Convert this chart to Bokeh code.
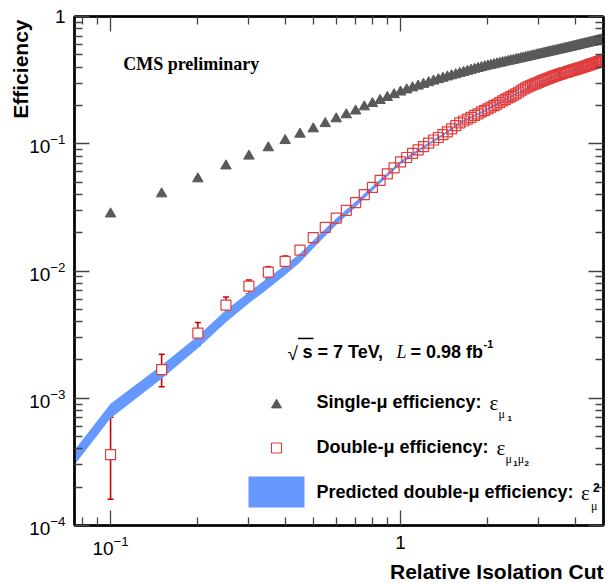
import math
from bokeh.plotting import figure
from bokeh.models import (ColumnDataSource, FixedTicker, LogTickFormatter, LogAxis, Label,
                          Legend, LegendItem, Whisker, TeeHead, BoxAnnotation, Range1d, Title)
from bokeh.embed import file_html
from bokeh.resources import INLINE

# ---------------- data ----------------
iso_cut = [0.10, 0.15, 0.20, 0.25, 0.30, 0.35, 0.40, 0.45, 0.50, 0.55,
           0.60, 0.65, 0.70, 0.75, 0.80, 0.85, 0.90, 0.95, 1.00, 1.05,
           1.10, 1.15, 1.20, 1.25, 1.30, 1.35, 1.40, 1.45, 1.50, 1.55,
           1.60, 1.65, 1.70, 1.75, 1.80, 1.85, 1.90, 1.95, 2.00, 2.05,
           2.10, 2.15, 2.20, 2.25, 2.30, 2.35, 2.40, 2.45, 2.50, 2.55,
           2.60, 2.65, 2.70, 2.75, 2.80, 2.85, 2.90, 2.95, 3.00, 3.05,
           3.10, 3.15, 3.20, 3.25, 3.30, 3.35, 3.40, 3.45, 3.50, 3.55,
           3.60, 3.65, 3.70, 3.75, 3.80, 3.85, 3.90, 3.95, 4.00, 4.05,
           4.10, 4.15, 4.20, 4.25, 4.30, 4.35, 4.40, 4.45, 4.50, 4.55,
           4.60, 4.65, 4.70, 4.75, 4.80, 4.85, 4.90, 4.95, 5.00]

single_eff = [0.0281, 0.0404, 0.0530, 0.0670, 0.0800, 0.0930, 0.1060, 0.1190, 0.1310, 0.1440,
              0.1570, 0.1690, 0.1810, 0.1950, 0.2070, 0.2190, 0.2310, 0.2430, 0.2550, 0.2650,
              0.2750, 0.2840, 0.2930, 0.3020, 0.3110, 0.3190, 0.3270, 0.3350, 0.3420, 0.3490,
              0.3570, 0.3640, 0.3710, 0.3780, 0.3850, 0.3910, 0.3970, 0.4030, 0.4090, 0.4140,
              0.4190, 0.4240, 0.4290, 0.4340, 0.4390, 0.4440, 0.4490, 0.4530, 0.4580, 0.4630,
              0.4670, 0.4720, 0.4760, 0.4810, 0.4850, 0.4900, 0.4940, 0.4990, 0.5030, 0.5070,
              0.5120, 0.5160, 0.5200, 0.5250, 0.5290, 0.5330, 0.5370, 0.5410, 0.5450, 0.5490,
              0.5530, 0.5570, 0.5610, 0.5650, 0.5690, 0.5730, 0.5770, 0.5810, 0.5850, 0.5890,
              0.5930, 0.5970, 0.6010, 0.6050, 0.6090, 0.6120, 0.6160, 0.6200, 0.6240, 0.6270,
              0.6310, 0.6350, 0.6380, 0.6420, 0.6450, 0.6490, 0.6520, 0.6560, 0.6600]

double_eff = [3.6e-4, 1.68e-3, 3.25e-3, 5.4e-3, 7.6e-3, 9.8e-3, 1.19e-2, 1.46e-2, 1.83e-2, 2.2e-2,
              2.6e-2, 3.0e-2, 3.45e-2, 3.98e-2, 4.54e-2, 5.15e-2, 5.79e-2, 6.47e-2, 7.2e-2, 7.8e-2,
              8.4e-2, 8.95e-2, 9.5e-2, 0.101, 0.107, 0.112, 0.118, 0.124, 0.131, 0.139,
              0.146, 0.151, 0.156, 0.161, 0.167, 0.172, 0.178, 0.183, 0.188, 0.194,
              0.199, 0.205, 0.211, 0.217, 0.223, 0.229, 0.235, 0.241, 0.247, 0.254,
              0.261, 0.268, 0.275, 0.280, 0.285, 0.290, 0.295, 0.300, 0.305, 0.310,
              0.315, 0.319, 0.324, 0.328, 0.332, 0.337, 0.341, 0.345, 0.349, 0.353,
              0.356, 0.360, 0.363, 0.366, 0.370, 0.373, 0.377, 0.380, 0.384, 0.387,
              0.390, 0.394, 0.397, 0.401, 0.404, 0.408, 0.411, 0.415, 0.419, 0.422,
              0.426, 0.429, 0.433, 0.436, 0.440, 0.443, 0.447, 0.450, 0.454]

# error bars of the double-muon efficiency (first points only are visible)
err_cut = [0.10, 0.15, 0.20, 0.25, 0.30, 0.35, 0.40]
err_hi = [7.1e-4, 2.22e-3, 3.94e-3, 6.24e-3, 8.5e-3, 1.08e-2, 1.31e-2]
err_lo = [1.61e-4, 1.23e-3, 2.6e-3, 4.56e-3, 6.59e-3, 8.65e-3, 1.06e-2]

# predicted double-muon efficiency band
pred_cut = [0.05, 0.10, 0.15, 0.20, 0.25, 0.30, 0.35, 0.40, 0.45, 0.50, 0.60, 0.70, 0.80,
            0.90, 1.00, 1.20, 1.40, 1.60, 1.80, 2.00, 2.50, 3.00, 3.50, 4.00, 4.50, 5.00]
pred_eff = [1.05e-4, 8.0e-4, 1.62e-3, 2.78e-3, 4.45e-3, 6.2e-3, 8.1e-3, 1.02e-2, 1.27e-2, 1.62e-2,
            2.45e-2, 3.35e-2, 4.45e-2, 5.7e-2, 7.1e-2, 9.4e-2, 0.117, 0.145, 0.166, 0.187,
            0.246, 0.303, 0.347, 0.382, 0.417, 0.452]
pred_relerr = [0.14, 0.13, 0.12, 0.11, 0.11, 0.10, 0.10, 0.09, 0.08, 0.07, 0.06, 0.05, 0.04,
               0.035, 0.03, 0.025, 0.02, 0.02, 0.02, 0.02, 0.018, 0.018, 0.016, 0.016, 0.015, 0.015]

x_major = [0.1, 1.0]
x_minor = [0.08, 0.09, 0.2, 0.3, 0.4, 0.5, 0.6, 0.7, 0.8, 0.9, 2.0, 3.0, 4.0, 5.0]
y_major = [1e-4, 1e-3, 1e-2, 1e-1, 1.0]
y_minor = [m * 10.0 ** e for e in (-4, -3, -2, -1) for m in range(2, 10)]

# ---------------- figure ----------------
FL, FB = 74, 525   # frame left / bottom in canvas px (for placing texts)

p = figure(width=608, height=584, x_axis_type="log", y_axis_type="log",
           x_range=Range1d(0.0751, 5.01), y_range=Range1d(1e-4, 1.0),
           output_backend="svg", toolbar_location=None,
           min_border_left=74, min_border_right=5, min_border_top=16, min_border_bottom=59)
p.xgrid.visible = False
p.ygrid.visible = False
p.outline_line_color = "black"
p.outline_line_width = 2
p.background_fill_color = "white"
p.border_fill_color = "white"

def style_axis(ax, show_labels):
    ax.axis_line_width = 2.5
    ax.axis_line_color = "black"
    ax.major_tick_in = 15
    ax.major_tick_out = 0
    ax.minor_tick_in = 8
    ax.minor_tick_out = 0
    ax.major_tick_line_color = "#444444"
    ax.minor_tick_line_color = "#444444"
    ax.major_tick_line_width = 1.3
    ax.minor_tick_line_width = 1.3
    ax.major_label_text_font = "Liberation Sans"
    ax.major_label_text_color = "black"
    if show_labels:
        ax.major_label_text_font_size = "19px"
    else:
        ax.major_label_text_font_size = "1px"
        ax.major_label_text_alpha = 0
        ax.major_label_standoff = 0

xt = FixedTicker(ticks=x_major, minor_ticks=x_minor)
yt = FixedTicker(ticks=y_major, minor_ticks=y_minor)
p.xaxis.ticker = xt
p.yaxis.ticker = yt
p.xaxis.formatter = LogTickFormatter(min_exponent=1)
p.yaxis.formatter = LogTickFormatter(min_exponent=1)
for ax in p.xaxis:
    style_axis(ax, True)
    ax.major_label_standoff = 10
for ax in p.yaxis:
    style_axis(ax, True)
    ax.major_label_standoff = 9

ax_r = LogAxis(ticker=FixedTicker(ticks=y_major, minor_ticks=y_minor))
style_axis(ax_r, False)
p.add_layout(ax_r, "right")
ax_t = LogAxis(ticker=FixedTicker(ticks=x_major, minor_ticks=x_minor))
style_axis(ax_t, False)
p.add_layout(ax_t, "above")

# axis titles (ROOT style: at the end of the axes)
p.add_layout(Title(text="Relative Isolation Cut", align="right", text_font="Liberation Sans",
                   text_font_size="21px", text_font_style="bold", text_color="black",
                   standoff=0, offset=0), "below")
p.add_layout(Title(text="Efficiency", align="right", text_font="Liberation Sans",
                   text_font_size="21px", text_font_style="bold", text_color="black",
                   standoff=-10, offset=3), "left")

# predicted band
band_src = ColumnDataSource(dict(
    x=pred_cut,
    lo=[v * (1 - e) for v, e in zip(pred_eff, pred_relerr)],
    hi=[v * (1 + e) for v, e in zip(pred_eff, pred_relerr)]))
band_r = p.varea(x="x", y1="lo", y2="hi", source=band_src, fill_color="#6699ff", fill_alpha=1.0)

# single-muon efficiency
tri_r = p.scatter(iso_cut, single_eff, marker="triangle", size=10.5,
                  fill_color="#595959", line_color="#595959")

# double-muon efficiency: error bars + squares
n_err = len(err_cut)
err_src = ColumnDataSource(dict(x=err_cut, hi=err_hi, lo=err_lo))
wk = Whisker(source=err_src, base="x", upper="hi", lower="lo", dimension="height",
             line_color="#cc0000", line_width=1.6,
             upper_head=TeeHead(size=6, line_color="#cc0000", line_width=1.6),
             lower_head=TeeHead(size=6, line_color="#cc0000", line_width=1.6))
p.add_layout(wk)
p.scatter(iso_cut[:n_err], double_eff[:n_err], marker="square", size=10,
          fill_color="white", line_color="#e03c3c", line_width=1.2)
sq_r = p.scatter(iso_cut[n_err:], double_eff[n_err:], marker="square", size=10,
                 fill_color=None, line_color="#e03c3c", line_width=1.2)

# ---------------- legends (glyphs) ----------------
def glyph_legend(renderer, left, bottom, w, h):
    lg = Legend(items=[LegendItem(label="", renderers=[renderer])],
                location=(left - FL, FB - bottom), glyph_width=w, glyph_height=h,
                padding=0, margin=0, spacing=0, label_standoff=0,
                label_text_font_size="8px", label_width=1, label_height=1,
                border_line_alpha=0, background_fill_alpha=0)
    p.add_layout(lg)

glyph_legend(tri_r, 248, 416.5, 56, 25)
glyph_legend(sq_r, 248, 459.8, 56, 25)
glyph_legend(band_r, 241.2, 510.6, 70, 39)

# ---------------- texts ----------------
def lab(text, cx, cy, size, font="Liberation Sans", style="bold", align="left",
        baseline="alphabetic", angle=0.0):
    p.add_layout(Label(x=cx - FL, y=FB - cy, x_units="screen", y_units="screen",
                       text=text, text_font=font, text_font_size=f"{size}px",
                       text_font_style=style, text_align=align, text_baseline=baseline,
                       angle=angle, text_color="black"))

lab("CMS preliminary", 122.7, 63.3, 18, font="Liberation Serif")

# sqrt(s) line
lab("\u221a", 287, 352.5, 19, style="normal")
p.add_layout(BoxAnnotation(left=297.5 - FL, right=313 - FL, top=FB - 337.2, bottom=FB - 338.7,
                           left_units="screen", right_units="screen",
                           top_units="screen", bottom_units="screen",
                           fill_color="black", fill_alpha=1, line_alpha=0))
lab("s = 7 TeV,", 302, 351.7, 18)
lab("L", 396, 351.7, 18, font="Liberation Serif", style="italic")
lab("= 0.98 fb", 410, 351.7, 18)
lab("-1", 483, 343, 11)

# legend texts
lab("Single-\u03bc efficiency:", 316, 401.7, 18)
lab("\u03b5", 489, 402.5, 21, font="Liberation Serif", style="normal")
lab("\u03bc", 498, 413, 12, font="Liberation Serif", style="normal")
lab("1", 507, 418, 8)

lab("Double-\u03bc efficiency:", 316, 446.7, 18)
lab("\u03b5", 496, 447.5, 21, font="Liberation Serif", style="normal")
lab("\u03bc", 505, 458, 12, font="Liberation Serif", style="normal")
lab("1", 512.7, 463, 8)
lab("\u03bc", 517.3, 458, 12, font="Liberation Serif", style="normal")
lab("2", 524, 463, 8)

lab("Predicted double-\u03bc efficiency:", 316, 491.7, 18)
lab("\u03b5", 580.5, 492, 21, font="Liberation Serif", style="normal")
lab("2", 592.5, 487, 12)
lab("\u03bc", 590.5, 505, 12, font="Liberation Serif", style="normal")

open("out.html", "w").write(file_html(p, INLINE))
